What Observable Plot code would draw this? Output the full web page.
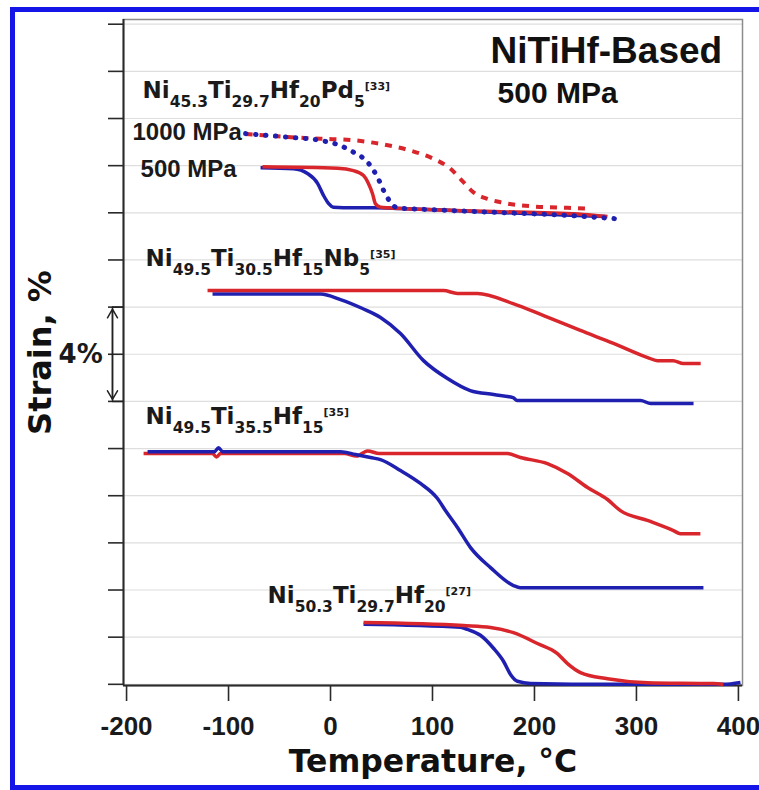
<!DOCTYPE html>
<html>
<head>
<meta charset="utf-8">
<script src="https://cdn.jsdelivr.net/npm/d3@7"></script>
<script src="https://cdn.jsdelivr.net/npm/@observablehq/plot@0.6"></script>
<style>
html, body { margin: 0; padding: 0; background: #fff; overflow: hidden; }
#wrap { position: relative; width: 759px; height: 790px; overflow: hidden; }
#chart svg { display: block; }
#border { position: absolute; left: 10px; top: 7px; width: 900px; height: 783px; box-sizing: border-box; border-top: 5px solid #1515e8; border-left: 5px solid #1515e8; border-bottom: 5px solid #1515e8; pointer-events: none; }
</style>
</head>
<body>
<div id="wrap"><div id="chart"></div><div id="border"></div></div>
<script>
// ---- axes ----
const xTicks = [-200, -100, 0, 100, 200, 300, 400];
const yTicks = [0, 2, 4, 6, 8, 10, 12, 14, 16, 18, 20, 22, 24, 26, 28];
const xTitle = "Temperature, °C";
const yTitle = "Strain, %";

// ---- data: [temperature °C, strain % (offset)] ----
// Ni45.3Ti29.7Hf20Pd5, 500 MPa
const pd500Blue = [[-68.6,21.91],[-36.3,21.87],[-22.6,21.67],[-12.7,21.25],[-6.9,20.74],[-2,20.40],[2.9,20.24],[22.5,20.21],[42.2,20.21],[68.6,20.18],[166.7,20.01],[248,19.88],[269.7,19.84]];
const pd500Red = [[-66.7,21.95],[6.9,21.89],[22.5,21.79],[32.4,21.58],[37.3,21.23],[41.2,20.81],[44.1,20.38],[49,20.24],[55.9,20.21],[166.7,20.05],[248,19.93],[271.6,19.84]];
// Ni45.3Ti29.7Hf20Pd5, 1000 MPa
const pd1000Red = [[-83.3,23.34],[-9.8,23.14],[19.6,23.09],[52,22.9],[78.4,22.64],[101,22.29],[117.7,21.87],[130.4,21.30],[140.2,20.87],[154,20.59],[166.7,20.45],[199,20.27],[232.4,20.21],[255,20.17]];
const pd1000Blue = [[-83.3,23.36],[-42.2,23.21],[-9.8,23.07],[9.8,22.85],[22.5,22.57],[36.3,22.15],[46.1,21.51],[52,20.95],[58.8,20.45],[65.7,20.21],[101,20.13],[166.7,20.01],[232.4,19.89],[279.5,19.75]];
// Ni49.5Ti30.5Hf15Nb5
const nbRed = [[-120.6,16.70],[110.8,16.70],[124.5,16.58],[144,16.58],[179,16.15],[209,15.64],[245,15.01],[277.5,14.46],[311,13.86],[320.6,13.73],[336,13.73],[346,13.61],[363,13.61]];
const nbBlue = [[-115.7,16.56],[-9.8,16.56],[9.8,16.32],[31.4,15.94],[49,15.56],[68.6,14.88],[91.2,13.73],[114.7,12.97],[137,12.46],[160,12.29],[179,12.16],[183,12.04],[304,12.04],[314,11.91],[356,11.91]];
// Ni49.5Ti35.5Hf15
const hf15Red = [[-183.3,9.79],[-115.7,9.79],[-111.8,9.64],[-107.8,9.79],[13.7,9.79],[25.5,9.68],[36.3,9.90],[48,9.79],[173.5,9.79],[186.3,9.62],[212.7,9.36],[232.4,8.94],[252,8.35],[271.6,7.84],[284.3,7.37],[310.8,6.95],[336.3,6.52],[343.1,6.39],[362.7,6.39]];
const hf15Blue = [[-179.4,9.87],[-113.7,9.87],[-109.8,10.04],[-105.9,9.87],[9.8,9.87],[24.5,9.75],[39.2,9.62],[49,9.53],[68.6,9.07],[88.2,8.52],[104.9,7.88],[112.7,7.37],[124.5,6.65],[137.3,5.80],[156.9,4.95],[179.4,4.19],[186.3,4.10],[365.7,4.10]];
// Ni50.3Ti29.7Hf20
const hf20Blue = [[32.4,2.55],[127.5,2.42],[134.3,2.33],[147,2.08],[159.8,1.53],[169.6,0.98],[176.5,0.42],[183.3,0.13],[196.1,0.04],[277.5,0.0],[385.3,0.0],[402,0.08]];
const hf20Red = [[32.4,2.62],[130.4,2.49],[156.9,2.41],[179.4,2.19],[202.9,1.73],[222.5,1.30],[232.4,0.88],[245.1,0.50],[271.6,0.24],[310.8,0.07],[375.5,0.03],[385.3,-0.01]];

// ---- labels ----
const formulaPd = [["Ni"],["45.3","sub"],["Ti"],["29.7","sub"],["Hf"],["20","sub"],["Pd"],["5","sub"],["[33]","sup"]];
const formulaNb = [["Ni"],["49.5","sub"],["Ti"],["30.5","sub"],["Hf"],["15","sub"],["Nb"],["5","sub"],["[35]","sup"]];
const formulaHf15 = [["Ni"],["49.5","sub"],["Ti"],["35.5","sub"],["Hf"],["15","sub"],["[35]","sup"]];
const formulaHf20 = [["Ni"],["50.3","sub"],["Ti"],["29.7","sub"],["Hf"],["20","sub"],["[27]","sup"]];
const formulaLabels = [
  {segs: formulaPd, T: -184.3, S: 24.89},
  {segs: formulaNb, T: -181.4, S: 17.76},
  {segs: formulaHf15, T: -181.4, S: 11.06},
  {segs: formulaHf20, T: -61.8, S: 3.47}
];
const stressLabels = [
  {text: "1000 MPa", T: -194.2, S: 23.07},
  {text: "500 MPa", T: -186.3, S: 21.50}
];
const titleLabel = [{text: "NiTiHf-Based", T: 156.9, S: 26.37}];
const subtitleLabel = [{text: "500 MPa", T: 163.8, S: 24.64}];
const scaleBar = [{T: -213.8, edge: -203, from: 12, to: 16, mid: 14, labelT: -245, label: "4%"}];

// ---- styles ----
const RED = "#d9262c", BLUE = "#2020b0";
const series = [
  {data: pd500Blue, stroke: BLUE, dash: null, width: 3.5},
  {data: pd500Red, stroke: RED, dash: null, width: 3.5},
  {data: pd1000Red, stroke: RED, dash: "7,7", width: 4},
  {data: pd1000Blue, stroke: BLUE, dash: "0.5,9.5", width: 5, cap: "round"},
  {data: nbBlue, stroke: BLUE, dash: null, width: 3.5},
  {data: nbRed, stroke: RED, dash: null, width: 3.5},
  {data: hf15Red, stroke: RED, dash: null, width: 3.5},
  {data: hf15Blue, stroke: BLUE, dash: null, width: 3.5},
  {data: hf20Blue, stroke: BLUE, dash: null, width: 3.5},
  {data: hf20Red, stroke: RED, dash: null, width: 3.5}
];

const joined = segs => segs.map(s => s[0]).join("");
const BOLD_ARIAL = "Liberation Sans, Arial, Helvetica, sans-serif";
const WIDE = "DejaVu Sans, Verdana, sans-serif";

const plot = Plot.plot({
  width: 759,
  height: 790,
  marginLeft: 123,
  marginRight: 17,
  marginTop: 19,
  marginBottom: 105,
  x: {domain: [-203, 404]},
  y: {domain: [-0.05, 28.2]},
  style: {background: "transparent", fontFamily: BOLD_ARIAL, overflow: "visible"},
  marks: [
    Plot.ruleY(yTicks, {stroke: "#dedede", strokeWidth: 1.2}),
    Plot.frame({stroke: "#8c8c8c", strokeWidth: 1.5}),
    Plot.axisY({ticks: yTicks, tickSize: 15, tickFormat: () => "", label: null, stroke: "#2a2a2a", strokeWidth: 1.6}),
    Plot.axisX({ticks: xTicks, tickSize: 16, tickPadding: 15, tickFormat: d => String(d), fontSize: 26, fontWeight: "bold", fontFamily: BOLD_ARIAL, label: null, stroke: "#2a2a2a", fill: "#1a1a1a", strokeWidth: 1.6}),
    Plot.ruleX([-203], {stroke: "#2a2a2a", strokeWidth: 2}),
    Plot.ruleY([-0.05], {stroke: "#2a2a2a", strokeWidth: 2}),
    ...series.map(s => Plot.line(s.data, {
      x: d => d[0], y: d => d[1],
      stroke: s.stroke, strokeWidth: s.width,
      strokeDasharray: s.dash || undefined,
      strokeLinecap: s.cap || "butt",
      curve: "monotone-x"
    })),
    // scale bar
    Plot.ruleY(scaleBar.flatMap(d => [{y: d.from, a: d.T, b: d.edge}, {y: d.to, a: d.T, b: d.edge}]), {y: "y", x1: "a", x2: "b", stroke: "#222", strokeWidth: 1.5}),
    Plot.ruleX(scaleBar, {x: "T", y1: "from", y2: "to", stroke: "#222", strokeWidth: 1.5}),
    Plot.arrow(scaleBar.flatMap(d => [{x: d.T, y1: d.mid, y2: d.to}, {x: d.T, y1: d.mid, y2: d.from}]), {x1: "x", x2: "x", y1: "y1", y2: "y2", stroke: "#222", strokeWidth: 1.5, headLength: 10, insetEnd: 2}),
    Plot.text(scaleBar, {x: "labelT", y: "mid", text: "label", fontSize: 26, fontWeight: "bold", fontFamily: WIDE, textAnchor: "middle", lineAnchor: "middle", fill: "#1a1a1a"}),
    // labels
    Plot.text(formulaLabels, {x: "T", y: "S", text: d => joined(d.segs), textAnchor: "start", lineAnchor: "bottom", fontSize: 23, fontWeight: "bold", fontFamily: WIDE, fill: "#1a1a1a"}),
    Plot.text(stressLabels, {x: "T", y: "S", text: "text", textAnchor: "start", lineAnchor: "bottom", fontSize: 24, fontWeight: "bold", fontFamily: BOLD_ARIAL, fill: "#1a1a1a"}),
    Plot.text(titleLabel, {x: "T", y: "S", text: "text", textAnchor: "start", lineAnchor: "bottom", fontSize: 37, fontWeight: "bold", fontFamily: BOLD_ARIAL, fill: "#111"}),
    Plot.text(subtitleLabel, {x: "T", y: "S", text: "text", textAnchor: "start", lineAnchor: "bottom", fontSize: 30, fontWeight: "bold", fontFamily: BOLD_ARIAL, fill: "#111"}),
    // axis titles
    Plot.text([xTitle], {frameAnchor: "bottom", dy: 86, text: d => d, textAnchor: "middle", lineAnchor: "bottom", fontSize: 31.5, fontWeight: "bold", fontFamily: WIDE, fill: "#111"}),
    Plot.text([yTitle], {frameAnchor: "left", dx: -83, text: d => d, rotate: -90, textAnchor: "middle", lineAnchor: "middle", fontSize: 32, fontWeight: "bold", fontFamily: WIDE, fill: "#111"})
  ]
});

document.getElementById("chart").appendChild(plot);

// rebuild chemical formulas with subscripts / superscripts
d3.select(plot).selectAll("text").each(function() {
  const t = this.textContent;
  const f = formulaLabels.find(f => joined(f.segs) === t);
  if (!f) return;
  const sel = d3.select(this);
  sel.text(null);
  let cur = 0;
  for (const [str, kind] of f.segs) {
    const off = kind === "sub" ? 9 : kind === "sup" ? -8 : 0;
    const ts = sel.append("tspan").text(str).attr("dy", off - cur);
    if (kind === "sub") ts.attr("font-size", 15.5);
    else if (kind === "sup") ts.attr("font-size", 11);
    cur = off;
  }
});
</script>
</body>
</html>
